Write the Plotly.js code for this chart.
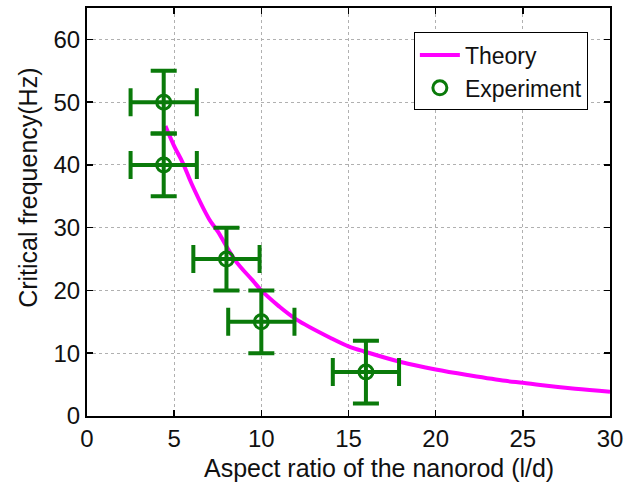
<!DOCTYPE html>
<html>
<head>
<meta charset="utf-8">
<script src="https://cdn.plot.ly/plotly-3.0.1.min.js"></script>
<style>html,body{margin:0;padding:0;background:#fff;}#chart{width:630px;height:485px;}</style>
</head>
<body>
<div id="chart"></div>
<script>
// Theory curve
const theoryX = [4.5, 5, 5.5, 6, 7, 7.5, 8.5, 9.5, 10, 11, 12, 14, 15, 16, 18, 20, 22, 24, 25, 26, 28, 30];
const theoryY = [46.2, 43.0, 40.3, 37.0, 31.4, 29.4, 24.8, 21.6, 20.0, 17.5, 15.4, 12.4, 11.1, 10.2, 8.6, 7.4, 6.45, 5.6, 5.3, 4.95, 4.35, 3.87];

// Experiment points
const expX = [4.4, 4.4, 8, 10, 16];
const expY = [50, 40, 25, 15, 7];
const expXErr = [1.9, 1.9, 1.9, 1.9, 1.9];
const expYErr = [5, 5, 5, 5, 5];

const xTicks = [0, 5, 10, 15, 20, 25, 30];
const yTicks = [0, 10, 20, 30, 40, 50, 60];

const xTitle = 'Aspect ratio of the nanorod (l/d)';
const yTitle = 'Critical frequency(Hz)';

const green = '#0a7a0a';
const fam = 'Liberation Sans, Arial, sans-serif';
const tickFont = {family: fam, size: 24, color: '#111'};
const titleFont = {family: fam, size: 25, color: '#111'};
const legendFont = {family: fam, size: 23, color: '#111'};

const traces = [
  {
    x: theoryX, y: theoryY, type: 'scatter', mode: 'lines', name: 'Theory',
    line: {color: '#ff00ff', width: 4, shape: 'spline'}
  },
  {
    x: expX, y: expY, type: 'scatter', mode: 'markers', name: 'Experiment',
    marker: {symbol: 'circle-open', size: 14, color: green, line: {color: green, width: 3}},
    error_y: {type: 'data', array: expYErr, visible: true, color: green, thickness: 4, width: 13},
    error_x: {type: 'data', array: expXErr, visible: true, color: green, thickness: 4, width: 14}
  }
];

const axisCommon = {
  showline: true, linecolor: '#000', linewidth: 2, mirror: 'ticks',
  ticks: 'inside', ticklen: 6, tickwidth: 1.5, tickcolor: '#000',
  showgrid: true, gridcolor: '#b0b0b0', griddash: 'dot', gridwidth: 1,
  zeroline: false, tickfont: tickFont
};

const layout = {
  width: 630, height: 485,
  margin: {l: 87, r: 20, t: 8, b: 69},
  paper_bgcolor: '#fff', plot_bgcolor: '#fff',
  font: tickFont,
  showlegend: true,
  legend: {
    x: 0.625, y: 0.94, xanchor: 'left', yanchor: 'top',
    bgcolor: '#fff', bordercolor: '#000', borderwidth: 1,
    font: legendFont, tracegroupgap: 2, itemwidth: 40
  },
  xaxis: Object.assign({}, axisCommon, {
    range: [0, 30], tickvals: xTicks, ticktext: xTicks.map(String)
  }),
  yaxis: Object.assign({}, axisCommon, {
    range: [0, 65], tickvals: yTicks, ticktext: yTicks.map(String)
  }),
  annotations: [
    {text: xTitle, xref: 'paper', yref: 'paper', x: 0.558, y: -0.127,
     xanchor: 'center', yanchor: 'middle', showarrow: false, font: titleFont},
    {text: yTitle, xref: 'paper', yref: 'paper', x: -0.113, y: 0.559, textangle: -90,
     xanchor: 'center', yanchor: 'middle', showarrow: false, font: titleFont}
  ]
};

Plotly.newPlot('chart', traces, layout, {displayModeBar: false, staticPlot: true});
</script>
</body>
</html>
